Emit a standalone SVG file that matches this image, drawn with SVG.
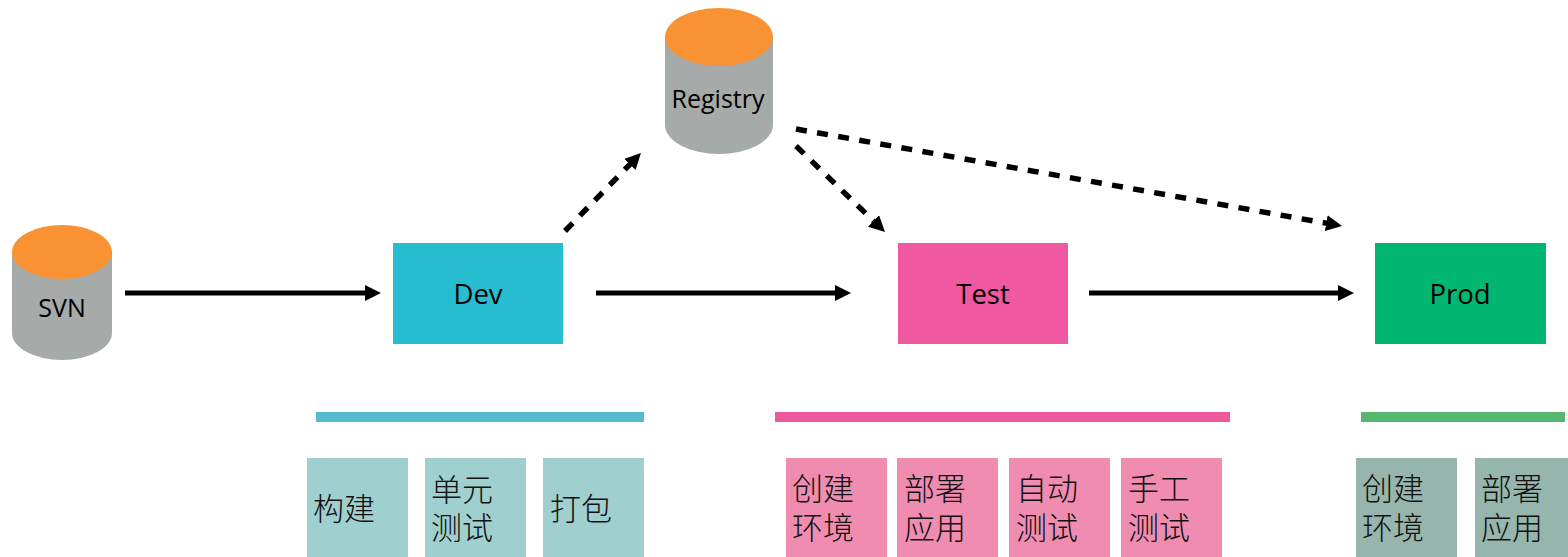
<svg xmlns="http://www.w3.org/2000/svg" width="1568" height="557" viewBox="0 0 1568 557">
<style>
.lbl{font-family:"Open Sans","Noto Sans",sans-serif;font-size:27.5px;fill:#000;text-anchor:middle}
.cyl{font-size:25px}
.cjk{font-family:"Noto Sans CJK SC",sans-serif;font-size:31px;font-weight:300;fill:#111}
.side{fill:#a6aaa9}.top{fill:#f99232}
.dv{fill:#9fcfce}.ts{fill:#f08cb0}.pr{fill:#96b5ac}
.solid{fill:none;stroke:#000;stroke-width:5;marker-end:url(#ah)}
.dash{fill:none;stroke:#000;stroke-width:5.5;stroke-dasharray:11 10.4;marker-end:url(#ah)}
</style>
<defs><marker id="ah" markerUnits="userSpaceOnUse" markerWidth="18" markerHeight="18" refX="4" refY="8" orient="auto"><path d="M0 0L16 8L0 16Z" fill="#000"/></marker></defs>
<rect width="1568" height="557" fill="#fff"/>
<g id="connectors">
<path class="solid" d="M125 293H369"/>
<path class="solid" d="M596 293H839"/>
<path class="solid" d="M1089 293H1342"/>
<path class="dash" d="M565 231L632.6 161.6"/>
<path class="dash" d="M796 146L876.4 223.7"/>
<path class="dash" d="M796 129L1330.2 223.9"/>
</g>
<g id="registry"><path class="side" d="M665 37V125A54 29 0 0 0 773 125V37Z"/><ellipse class="top" cx="719" cy="37" rx="54" ry="29"/><text class="lbl cyl" x="718" y="108">Registry</text></g>
<g id="svn"><path class="side" d="M12 252V333A50 27 0 0 0 112 333V252Z"/><ellipse class="top" cx="62" cy="252" rx="50" ry="27"/><text class="lbl cyl" x="62" y="317">SVN</text></g>
<g id="dev"><rect x="393" y="243" width="170" height="101" fill="#27bdd1"/><text class="lbl" x="478" y="304">Dev</text></g>
<g id="test"><rect x="898" y="243" width="170" height="101" fill="#f059a1"/><text class="lbl" x="983" y="304">Test</text></g>
<g id="prod"><rect x="1375" y="243" width="171" height="101" fill="#00b671"/><text class="lbl" x="1460" y="304">Prod</text></g>
<rect id="bar-dev" x="316" y="412" width="328" height="10" fill="#56bbcf"/>
<rect id="bar-test" x="775" y="412" width="455" height="10" fill="#ec599f"/>
<rect id="bar-prod" x="1361" y="412" width="204" height="10" fill="#56b870"/>
<g id="s-build"><rect class="dv" x="307" y="458" width="101" height="99"/><text class="cjk" x="313" y="520">构建</text></g>
<g id="s-unit"><rect class="dv" x="425" y="458" width="101" height="99"/><text class="cjk"><tspan x="431" y="501">单元</tspan><tspan x="431" y="539">测试</tspan></text></g>
<g id="s-pack"><rect class="dv" x="543" y="458" width="101" height="99"/><text class="cjk" x="550" y="520">打包</text></g>
<g id="t-env"><rect class="ts" x="786" y="458" width="101" height="99"/><text class="cjk"><tspan x="792" y="500">创建</tspan><tspan x="792" y="539">环境</tspan></text></g>
<g id="t-dep"><rect class="ts" x="897" y="458" width="101" height="99"/><text class="cjk"><tspan x="904" y="500">部署</tspan><tspan x="904" y="539">应用</tspan></text></g>
<g id="t-auto"><rect class="ts" x="1009" y="458" width="101" height="99"/><text class="cjk"><tspan x="1016" y="500">自动</tspan><tspan x="1016" y="539">测试</tspan></text></g>
<g id="t-man"><rect class="ts" x="1121" y="458" width="101" height="99"/><text class="cjk"><tspan x="1128" y="500">手工</tspan><tspan x="1128" y="539">测试</tspan></text></g>
<g id="p-env"><rect class="pr" x="1356" y="458" width="101" height="99"/><text class="cjk"><tspan x="1362" y="500">创建</tspan><tspan x="1362" y="539">环境</tspan></text></g>
<g id="p-dep"><rect class="pr" x="1475" y="458" width="93" height="99"/><text class="cjk"><tspan x="1481" y="500">部署</tspan><tspan x="1481" y="539">应用</tspan></text></g>
</svg>
